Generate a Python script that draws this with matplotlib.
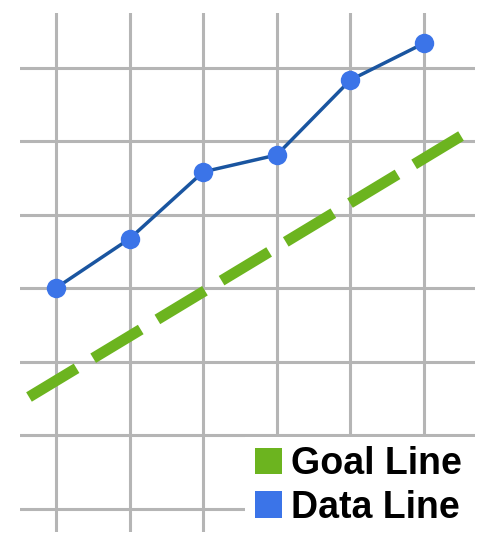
import matplotlib
matplotlib.use("Agg")
import matplotlib.pyplot as plt
from matplotlib.patches import Patch, Rectangle

# Data
x_pos = [0, 1, 2, 3, 4, 5]
data_vals = [3.0, 3.67, 4.58, 4.81, 5.83, 6.33]
goal_x = [-0.367, 5.503]
goal_y = [1.517, 5.068]
legend_labels = ["Goal Line", "Data Line"]

GRID = "#b5b5b5"
GREEN = "#6cb41f"
BLUE = "#3b74e8"
DARK = "#1a55a0"

plt.rcParams["lines.scale_dashes"] = False

fig = plt.figure(figsize=(5, 5.48), dpi=100)
ax = fig.add_axes([20/500, (548-532)/548, 455/500, 519/548])
ax.set_xlim((20-56)/73.6, (475-56)/73.6)
ax.set_ylim((508.5-532)/73.5, (508.5-13)/73.5)
ax.set_xticks(x_pos)
ax.set_yticks(range(0, 7))
ax.grid(True, color=GRID, linewidth=2.2)
ax.set_axisbelow(True)
ax.tick_params(length=0, labelbottom=False, labelleft=False)
for s in ax.spines.values():
    s.set_visible(False)

ax.plot(goal_x, goal_y, color=GREEN, linewidth=7.9, dashes=(40, 14),
        solid_capstyle="butt", dash_capstyle="butt", zorder=2)
ax.plot(x_pos, data_vals, color=DARK, linewidth=2.5, marker="o",
        markersize=14, markerfacecolor=BLUE, markeredgewidth=0, zorder=3)

ax.add_patch(Rectangle((245/500, 0), 255/500, (548-437)/548,
                       transform=fig.transFigure, facecolor="white",
                       edgecolor="none", zorder=4, clip_on=False))

handles = [Patch(facecolor=GREEN, edgecolor="none"),
           Patch(facecolor=BLUE, edgecolor="none")]
leg = ax.legend(handles, legend_labels, loc="upper left",
                bbox_to_anchor=(255/500, 1-446/548),
                bbox_transform=fig.transFigure, frameon=False,
                borderpad=0, borderaxespad=0,
                handlelength=0.72, handleheight=0.72, handletextpad=0.25,
                labelspacing=0.21,
                prop={"family": "Liberation Sans", "weight": "bold", "size": 27})
leg.set_zorder(5)

fig.savefig("out.png", dpi=100, facecolor="white")
